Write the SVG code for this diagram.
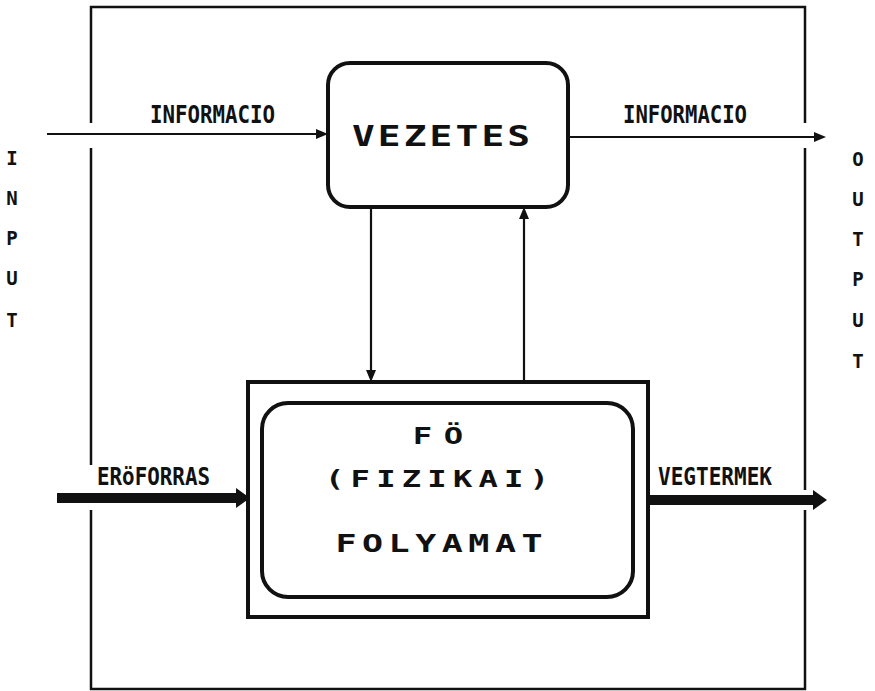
<svg xmlns="http://www.w3.org/2000/svg" width="875" height="691" viewBox="0 0 875 691">
  <defs>
    <!-- arrowheads are placed with refX near their base, so lines stop short of the tip -->
    <marker id="headThin" viewBox="0 0 12 10" refX="1" refY="5" markerWidth="12" markerHeight="10" markerUnits="userSpaceOnUse" orient="auto">
      <path d="M0,0 L12,5 L0,10 Z" fill="#111"/>
    </marker>
    <marker id="headThick" viewBox="0 0 14 20" refX="1" refY="10" markerWidth="14" markerHeight="20" markerUnits="userSpaceOnUse" orient="auto">
      <path d="M0,0 L14,10 L0,20 Z" fill="#111"/>
    </marker>
  </defs>
  <style>
    .frame { fill: none; stroke: #111; stroke-width: 2.5; }
    .box { fill: none; stroke: #111; stroke-width: 4; }
    .thin { fill: none; stroke: #111; stroke-width: 2.2; }
    .thick { fill: none; stroke: #111; stroke-width: 10; }
    .lbl { font-family: "DejaVu Sans Mono", "Liberation Mono", monospace; font-weight: bold; fill: #111; }
    .side { font-size: 19px; text-anchor: middle; }
    .flow { font-size: 24px; }
    .big { text-anchor: middle; }
  </style>
  <rect width="875" height="691" fill="#fff"/>

  <!-- system boundary, broken where the flows cross it -->
  <g id="boundary">
    <path class="frame" d="M91,123 L91,7 L805,7 L805,123"/>
    <path class="frame" d="M91,148 L91,465"/>
    <path class="frame" d="M91,510 L91,689 L805,689 L805,510"/>
    <path class="frame" d="M805,148 L805,490"/>
  </g>

  <!-- side captions -->
  <g id="input-caption" class="lbl side">
    <text x="12" y="165">I</text>
    <text x="12" y="205">N</text>
    <text x="12" y="245">P</text>
    <text x="12" y="285">U</text>
    <text x="12" y="327">T</text>
  </g>
  <g id="output-caption" class="lbl side">
    <text x="858" y="166">O</text>
    <text x="858" y="206">U</text>
    <text x="858" y="246">T</text>
    <text x="858" y="286">P</text>
    <text x="858" y="327">U</text>
    <text x="858" y="368">T</text>
  </g>

  <!-- management node: wide, spaced lettering -->
  <g id="vezetes">
    <rect class="box" x="328" y="63" width="240" height="144" rx="22" ry="22"/>
    <text class="lbl big" transform="translate(441,146) scale(1.35,1)" font-size="28" textLength="132" lengthAdjust="spacing">VEZETES</text>
  </g>

  <!-- main physical process node -->
  <g id="fo-folyamat">
    <rect class="box" x="248" y="382" width="400" height="235"/>
    <rect class="box" x="262" y="403" width="371" height="194" rx="26" ry="26"/>
    <text class="lbl big" transform="translate(438,444) scale(1.4,1)" font-size="23" textLength="36" lengthAdjust="spacing">FÖ</text>
    <text class="lbl big" transform="translate(437,487) scale(1.4,1)" font-size="23" textLength="160" lengthAdjust="spacing">(FIZIKAI)</text>
    <text class="lbl big" transform="translate(439,552) scale(1.4,1)" font-size="25" textLength="148" lengthAdjust="spacing">FOLYAMAT</text>
  </g>

  <!-- flows -->
  <g id="connectors">
    <line class="thin" x1="47" y1="134" x2="317" y2="134" marker-end="url(#headThin)"/>
    <line class="thin" x1="568" y1="137" x2="815" y2="137" marker-end="url(#headThin)"/>
    <line class="thin" x1="371" y1="207" x2="371" y2="371" marker-end="url(#headThin)"/>
    <line class="thin" x1="524" y1="382" x2="524" y2="218" marker-end="url(#headThin)"/>
    <line class="thick" x1="57" y1="498" x2="237" y2="498" marker-end="url(#headThick)"/>
    <line class="thick" x1="648" y1="500" x2="814" y2="500" marker-end="url(#headThick)"/>
  </g>

  <!-- flow labels -->
  <g id="flow-labels" class="lbl flow">
    <text x="150" y="123" textLength="125" lengthAdjust="spacingAndGlyphs">INFORMACIO</text>
    <text x="623" y="123" textLength="124" lengthAdjust="spacingAndGlyphs">INFORMACIO</text>
    <text x="97" y="485" textLength="113" lengthAdjust="spacingAndGlyphs">ERöFORRAS</text>
    <text x="658" y="485" textLength="114" lengthAdjust="spacingAndGlyphs">VEGTERMEK</text>
  </g>
</svg>
